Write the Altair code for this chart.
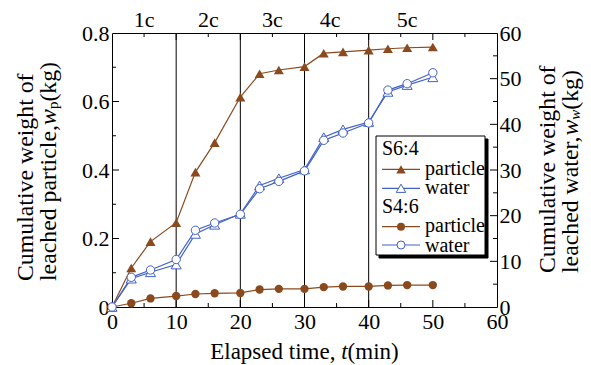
import altair as alt
import pandas as pd

# Elapsed time (min) and cumulative leached weights
times = [0, 3, 6, 10, 13, 16, 20, 23, 26, 30, 33, 36, 40, 43, 46, 50]
s64_particle = [0, 0.114, 0.191, 0.246, 0.394, 0.480, 0.613, 0.681, 0.692, 0.702,
                0.741, 0.745, 0.750, 0.754, 0.757, 0.759]
s46_particle = [0, 0.011, 0.025, 0.032, 0.038, 0.040, 0.041, 0.051, 0.053, 0.053,
                0.058, 0.060, 0.060, 0.063, 0.064, 0.064]
s64_water = [0, 6.2, 7.6, 9.3, 16.0, 18.0, 20.4, 26.6, 28.2, 30.1,
             37.2, 38.9, 40.5, 47.1, 48.6, 50.3]
s46_water = [0, 6.5, 8.1, 10.4, 16.8, 18.4, 20.3, 25.9, 27.5, 29.8,
             36.5, 38.1, 40.3, 47.5, 48.9, 51.3]

# Cycle boundaries and labels
cycle_bounds = [10, 20, 30, 40]
cycle_names = ["1c", "2c", "3c", "4c", "5c"]
cycle_mid = [5, 15, 25, 34, 46]

# Axis tick values
x_labels = [0, 10, 20, 30, 40, 50, 60]
x_major = [10, 20, 30, 40, 50]
x_minor = [5, 15, 25, 35, 45, 55]
left_labels = [0, 0.2, 0.4, 0.6, 0.8]
left_major = [0.2, 0.4, 0.6]
left_minor = [0.1, 0.3, 0.5, 0.7]
right_labels = [0, 10, 20, 30, 40, 50, 60]
right_major = [10, 20, 30, 40, 50]
right_minor = [5, 15, 25, 35, 45, 55]

FONT = "Liberation Serif, Times New Roman, Times, serif"
BROWN = "#8B4A1E"
BLUE = "#4262C8"
W, H = 385, 274

curves = pd.DataFrame({
    "t": times,
    "p64": s64_particle,
    "p46": s46_particle,
    "w64": s64_water,
    "w46": s46_water,
})

x_axis = alt.Axis(values=x_labels, title=None, ticks=False, domain=False, grid=False,
                  labelFlush=False, labelOverlap=False, labelPadding=4, labelFont=FONT,
                  labelFontSize=22, labelColor="black", format="d")
x_scale = alt.Scale(domain=[0, 60], nice=False, zero=False)


def xq(field):
    return alt.X(f"{field}:Q", scale=x_scale, axis=x_axis)


yl_scale = alt.Scale(domain=[0, 0.8], nice=False)
yl_axis = alt.Axis(orient="left", values=left_labels, title=None, ticks=False, domain=False,
                   grid=False, labelPadding=3, labelFont=FONT, labelFontSize=22,
                   labelColor="black", labelOverlap=False,
                   labelExpr="datum.value == 0 ? '0' : format(datum.value, '.1f')")
yr_scale = alt.Scale(domain=[0, 60], nice=False)
yr_axis = alt.Axis(orient="right", values=right_labels, title=None, ticks=False, domain=False,
                   grid=False, labelPadding=2, labelFont=FONT, labelFontSize=22,
                   labelColor="black", labelOverlap=False, format="d")


def yl(field):
    return alt.Y(f"{field}:Q", scale=yl_scale, axis=yl_axis)


def yr(field):
    return alt.Y(f"{field}:Q", scale=yr_scale, axis=yr_axis)


def one_row(**cols):
    return pd.DataFrame({k: [v] for k, v in cols.items()})


def text_piece(s, x, y, size=23.8, angle=0, italic=False, align="left", baseline="alphabetic"):
    return alt.Chart(one_row(s=s)).mark_text(
        font=FONT, fontSize=size, angle=angle, align=align, baseline=baseline,
        fontStyle="italic" if italic else "normal", color="black"
    ).encode(x=alt.value(x), y=alt.value(y), text="s:N")


# ---- left-axis group: particles, cycle lines, frame ticks ----
vlines = alt.Chart(pd.DataFrame({"t": cycle_bounds})).mark_rule(
    color="black", strokeWidth=1).encode(x=xq("t"))
cycle_text = alt.Chart(pd.DataFrame({"t": cycle_mid, "name": cycle_names})).mark_text(
    font=FONT, fontSize=22, align="center", baseline="alphabetic", color="black"
).encode(x=xq("t"), y=alt.value(-6), text="name:N")

p64_line = alt.Chart(curves).mark_line(color=BROWN, strokeWidth=1.2).encode(x=xq("t"), y=yl("p64"))
p46_line = alt.Chart(curves).mark_line(color=BROWN, strokeWidth=1.2).encode(x=xq("t"), y=yl("p46"))
p64_pts = alt.Chart(curves).mark_point(shape="triangle-up", filled=True, color=BROWN,
                                       size=100, opacity=1).encode(x=xq("t"), y=yl("p64"))
p46_pts = alt.Chart(curves).mark_point(shape="circle", filled=True, color=BROWN,
                                       size=70, opacity=1).encode(x=xq("t"), y=yl("p46"))


def tick_rules_y(values, side_scale, x0, x1):
    return alt.Chart(pd.DataFrame({"v": values})).mark_rule(color="black", strokeWidth=1).encode(
        y=side_scale("v"), x=alt.value(x0), x2=alt.value(x1))


def tick_rules_x(values, y0, y1):
    return alt.Chart(pd.DataFrame({"t": values})).mark_rule(color="black", strokeWidth=1).encode(
        x=xq("t"), y=alt.value(y0), y2=alt.value(y1))


left_group = alt.layer(
    vlines, cycle_text,
    tick_rules_y(left_major, yl, 0, 7), tick_rules_y(left_minor, yl, 0, 4),
    tick_rules_x(x_major, H, H - 7), tick_rules_x(x_minor, H, H - 4),
    tick_rules_x(x_major, 0, 7), tick_rules_x(x_minor, 0, 4),
    p64_line, p46_line, p64_pts, p46_pts,
)

# ---- right-axis group: water ----
w64_line = alt.Chart(curves).mark_line(color=BLUE, strokeWidth=1.2).encode(x=xq("t"), y=yr("w64"))
w46_line = alt.Chart(curves).mark_line(color=BLUE, strokeWidth=1.2).encode(x=xq("t"), y=yr("w46"))
w64_pts = alt.Chart(curves).mark_point(shape="triangle-up", filled=True, fill="white", stroke=BLUE,
                                       strokeWidth=1, size=100, opacity=1).encode(x=xq("t"), y=yr("w64"))
w46_pts = alt.Chart(curves).mark_point(shape="circle", filled=True, fill="white", stroke=BLUE,
                                       strokeWidth=1, size=70, opacity=1).encode(x=xq("t"), y=yr("w46"))

right_group = alt.layer(
    tick_rules_y(right_major, yr, W, W - 7), tick_rules_y(right_minor, yr, W, W - 4),
    w64_line, w46_line, w64_pts, w46_pts,
)

# ---- axis titles (positions relative to the plot origin) ----
titles = [
    # left
    text_piece("Cumulative weight of", -79.5, 248, angle=270),
    text_piece("leached particle,", -56.5, 248, angle=270),
    text_piece("w", -56.5, 92, angle=270, italic=True),
    text_piece("p", -54.5, 76.1, size=15, angle=270),
    text_piece("(kg)", -56.5, 68.6, angle=270),
    # right
    text_piece("Cumulative weight of", 443, 240, angle=270),
    text_piece("leached water,", 466, 240, angle=270),
    text_piece("w", 466, 102.6, angle=270, italic=True),
    text_piece("w", 468, 86.7, size=15, angle=270, italic=True),
    text_piece("(kg)", 466, 76.7, angle=270),
    # bottom
    text_piece("Elapsed time,", 98.2, 326, size=23),
    text_piece("t", 229.2, 326, size=23, italic=True),
    text_piece("(min)", 235.6, 326, size=23),
]

# ---- legend box ----
def box(x0, x1, y0, y1, fill, stroke):
    return alt.Chart(one_row(k=0)).mark_rect(fill=fill, stroke=stroke, strokeWidth=1).encode(
        x=alt.value(x0), x2=alt.value(x1), y=alt.value(y0), y2=alt.value(y1))


def legend_row(y, color, shape, size, open_marker, label, text_y):
    seg = alt.Chart(one_row(k=0)).mark_rule(color=color, strokeWidth=1.2).encode(
        x=alt.value(270), x2=alt.value(308), y=alt.value(y))
    if open_marker:
        mk = alt.Chart(one_row(k=0)).mark_point(shape=shape, filled=True, fill="white", stroke=color,
                                                strokeWidth=1, size=size, opacity=1)
    else:
        mk = alt.Chart(one_row(k=0)).mark_point(shape=shape, filled=True, color=color,
                                                size=size, opacity=1)
    mk = mk.encode(x=alt.value(289), y=alt.value(y))
    lab = text_piece(label, 313, text_y, size=20)
    return [seg, mk, lab]


legend = [
    box(267, 376, 106, 225, "black", "black"),
    box(264, 373, 103, 222, "white", "black"),
    text_piece("S6:4", 270, 122, size=20),
    *legend_row(136.3, BROWN, "triangle-up", 90, False, "particle", 142),
    *legend_row(155.3, BLUE, "triangle-up", 90, True, "water", 160.5),
    text_piece("S4:6", 270, 180, size=20),
    *legend_row(193.7, BROWN, "circle", 64, False, "particle", 199),
    *legend_row(212, BLUE, "circle", 64, True, "water", 218.5),
]

annot_group = alt.layer(*titles, *legend)

chart = alt.layer(left_group, right_group, annot_group).resolve_scale(
    y="independent"
).properties(
    width=W, height=H,
    padding={"left": 112, "top": 33, "right": 94, "bottom": 58},
    autosize=alt.AutoSizeParams(type="none"),
).configure_view(stroke="black", strokeWidth=1)

chart.save("out.html", embed_options={"renderer": "svg", "actions": False})
